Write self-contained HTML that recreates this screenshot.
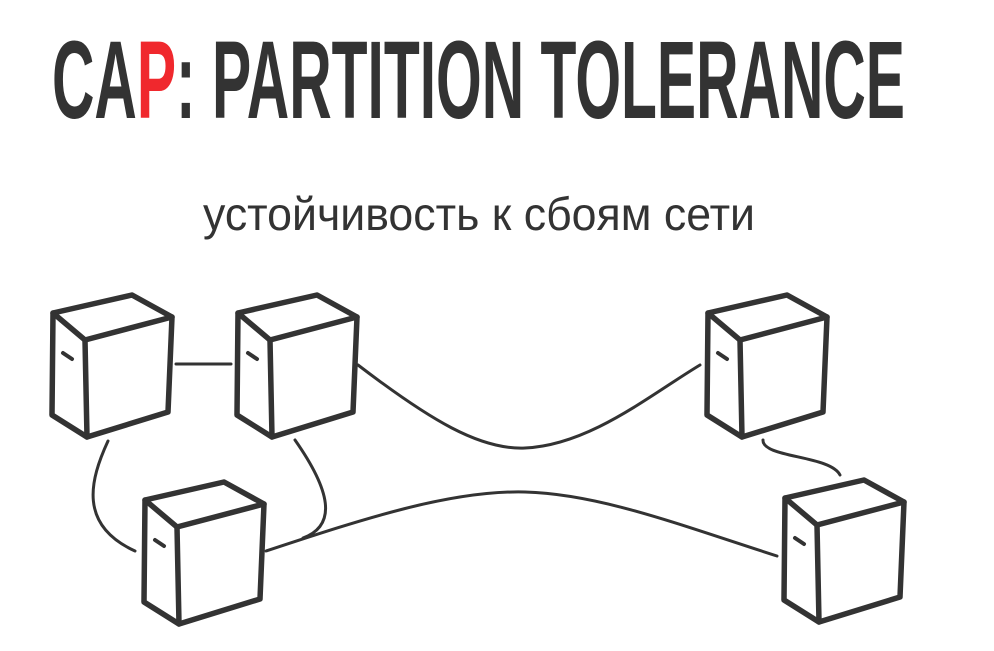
<!DOCTYPE html>
<html><head><meta charset="utf-8"><style>
html,body{margin:0;padding:0;background:#fff;width:994px;height:651px;overflow:hidden}
</style></head><body>
<svg width="994" height="651" viewBox="0 0 994 651" xmlns="http://www.w3.org/2000/svg">
<defs>
<g id="cube" fill="none" stroke="#333" stroke-width="5.5" stroke-linejoin="round" stroke-linecap="round">
<path d="M0,0 L-32,-27 L47,-45 L87,-23 Z"/>
<path d="M-32,-27 L-33,75 L2,97 L0,0"/>
<path d="M87,-23 L83,72 L2,97"/>
<path d="M-22,13 L-13,19" stroke-width="4"/>
</g>
</defs>
<text x="52" y="118" font-family="Liberation Sans Narrow, Liberation Sans, sans-serif" font-weight="bold" font-size="110" fill="#333" textLength="853" lengthAdjust="spacingAndGlyphs">CA<tspan fill="#f0282d">P</tspan>: PARTITION TOLERANCE</text>
<text x="203" y="230" font-family="Liberation Sans, DejaVu Sans, sans-serif" font-size="46" fill="#333" textLength="552" lengthAdjust="spacingAndGlyphs">устойчивость к сбоям сети</text>
<g fill="none" stroke="#333" stroke-width="3" stroke-linecap="round">
<path d="M176,364 L231,364"/>
<path d="M108,441 C90,480 78,525 135,551"/>
<path d="M295,440 C330,490 338,525 303,538"/>
<path d="M266,551 C360,520 450,490 525,492 C600,494 680,525 777,556"/>
<path d="M358,365 C430,420 480,450 525,448 C590,445 650,395 700,365"/>
<path d="M763,440 C762,458 830,455 840,475"/>
</g>
<use href="#cube" x="85" y="340"/>
<use href="#cube" x="270" y="340"/>
<use href="#cube" x="177" y="527"/>
<use href="#cube" x="740" y="340"/>
<use href="#cube" x="817" y="525"/>
</svg>
</body></html>
